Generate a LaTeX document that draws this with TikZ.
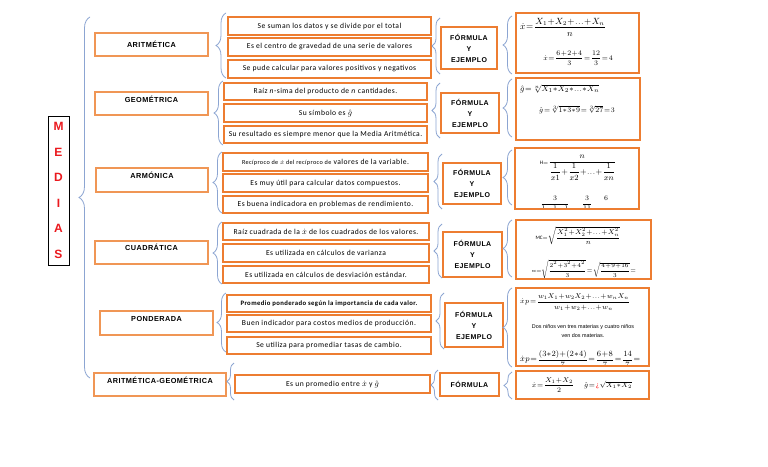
\documentclass[tikz,border=0pt]{standalone}
\usepackage{amsmath}
\usepackage{fontspec}
\setmainfont{Carlito}
\newfontfamily\descfont[LetterSpace=6]{Carlito}
\newfontfamily\headfont[LetterSpace=6]{Liberation Sans}
\newfontfamily\smallsans{Liberation Sans}
\usetikzlibrary{decorations.pathreplacing}
\definecolor{boxorange}{RGB}{237,125,49}
\definecolor{lightor}{RGB}{240,150,85}
\definecolor{bracecol}{RGB}{140,165,210}
\definecolor{medred}{RGB}{235,25,30}
\newcommand\up[2]{\raisebox{#1}[\height][\depth]{#2}}
\newcommand\BX[7]{\node[#1, minimum width={#5-#3}, minimum height={#6-#4}] (#2) at ({(#3+#5)/2},{(#4+#6)/2}) {#7};}
\newcommand\tightmath{\thickmuskip=1.5mu\medmuskip=0.8mu\thinmuskip=1mu}
\begin{document}
\begin{tikzpicture}[x=1pt,y=-1pt,
  medbox/.style={draw=black, line width=0.9pt, inner sep=0pt, align=center, text=medred,
    font=\headfont\bfseries\fontsize{12}{25.6}\selectfont},
  cat/.style={draw=lightor, line width=1.3pt, inner sep=0pt,
    font=\headfont\bfseries\fontsize{7.3}{9}\selectfont},
  desc/.style={draw=boxorange, line width=1.5pt, inner sep=0pt,
    font=\descfont\fontsize{7.6}{8}\selectfont},
  fy/.style={draw=boxorange, line width=1.6pt, inner sep=0pt, align=center,
    font=\headfont\bfseries\fontsize{7}{11}\selectfont},
  fbox/.style={draw=boxorange, line width=1.5pt, inner sep=0pt},
  fboxthick/.style={draw=boxorange, line width=2.3pt, inner sep=0pt},
  fm/.style={inner sep=0pt, font=\fontsize{7.3}{8}\selectfont\tightmath},
  fmb/.style={inner sep=0pt, font=\fontsize{9}{10}\selectfont\tightmath},
  fms/.style={inner sep=0pt, font=\fontsize{6.3}{7.5}\selectfont\tightmath},
  smalltxt/.style={inner sep=0pt, align=center, font=\smallsans\fontsize{5.4}{9}\selectfont},
  br/.style={decorate, decoration={brace, amplitude=#1}, draw=bracecol, line width=0.8pt}
]
\useasboundingbox (0,0) rectangle (768,466);
\fill[white] (0,0) rectangle (768,466);

% MEDIAS
\BX{medbox}{medias}{48}{116}{69}{265}{M\\E\\D\\I\\A\\S}
\draw[br=11pt] (90,378) -- (90,17);

% categories
\BX{cat}{c1}{95}{33}{208}{56}{ARITMÉTICA}
\BX{cat}{c2}{95}{92}{208}{115}{\up{4pt}{GEOMÉTRICA}}
\BX{cat}{c3}{96}{168}{208}{192}{\up{5pt}{ARMÓNICA}}
\BX{cat}{c4}{95}{241}{208}{264}{\up{5pt}{CUADRÁTICA}}
\BX{cat}{c5}{100}{311}{213}{335}{\up{4pt}{PONDERADA}}
\BX{cat}{c6}{94}{373}{226}{396}{\up{4pt}{ARITMÉTICA-GEOMÉTRICA}}

% descriptions
\BX{desc}{a1}{228}{17}{431}{35}{Se suman los datos y se divide por el total}
\BX{desc}{a2}{228}{38}{431}{56}{Es el centro de gravedad de una serie de valores}
\BX{desc}{a3}{228}{60}{431}{78}{Se pude calcular para valores positivos y negativos}
\BX{desc}{b1}{224}{83}{427}{100}{Raíz \textit{n}-sima del producto de \textit{n} cantidades.}
\BX{desc}{b2}{224}{104}{427}{122}{Su símbolo es $\hat{g}$}
\BX{desc}{b3}{224}{126}{427}{143}{Su resultado es siempre menor que la Media Aritmética.}
\BX{desc}{h1}{223}{153}{428}{171}{{\fontsize{6.2}{6}\selectfont Recíproco de $\dot{x}$ del recíproco de} valores de la variable.}
\BX{desc}{h2}{223}{174}{428}{192}{Es muy útil para calcular datos compuestos.}
\BX{desc}{h3}{223}{196}{428}{213}{Es buena indicadora en problemas de rendimiento.}
\BX{desc}{q1}{223}{223}{429}{240}{Raíz cuadrada de la $\dot{x}$ de los cuadrados de los valores.}
\BX{desc}{q2}{223}{244}{429}{262}{Es utilizada en cálculos de varianza}
\BX{desc}{q3}{223}{266}{429}{283}{Es utilizada en cálculos de desviación estándar.}
\BX{desc}{p1}{227}{295}{431}{312}{\bfseries\fontsize{6.7}{7}\selectfont Promedio ponderado según la importancia de cada valor.}
\BX{desc}{p2}{227}{315}{431}{332}{Buen indicador para costos medios de producción.}
\BX{desc}{p3}{227}{337}{431}{354}{Se utiliza para promediar tasas de cambio.}
\BX{desc}{g1}{235}{375}{430}{393}{Es un promedio entre $\dot{x}$ y $\hat{g}$}

% braces category -> descriptions
\draw[br=10pt] (226,78) -- (226,13);
\draw[br=9pt] (223,145) -- (223,81);
\draw[br=9pt] (222,213) -- (222,152);
\draw[br=9pt] (222,284) -- (222,222);
\draw[br=9pt] (226,352) -- (226,293);
\draw[br=7pt] (234,400) -- (234,363);

% FORMULA Y EJEMPLO boxes
\BX{fy}{fy1}{441}{27}{497}{69}{FÓRMULA\\Y\\EJEMPLO}
\BX{fy}{fy2}{441}{93}{499}{133}{FÓRMULA\\Y\\EJEMPLO}
\BX{fy}{fy3}{443}{163}{501}{204}{FÓRMULA\\Y\\EJEMPLO}
\BX{fy}{fy4}{443}{232}{502}{277}{FÓRMULA\\Y\\EJEMPLO}
\BX{fy}{fy5}{445}{303}{503}{347}{FÓRMULA\\Y\\EJEMPLO}
\BX{fy}{fy6}{440}{373}{499}{396}{FÓRMULA}

\draw[br=8pt] (440,74) -- (440,18);
\draw[br=8pt] (440,138) -- (440,83);
\draw[br=8pt] (442,209) -- (442,154);
\draw[br=8pt] (442,278) -- (442,224);
\draw[br=8pt] (444,349) -- (444,293);
\draw[br=7pt] (438,400) -- (438,370);

% formula boxes
\BX{fbox}{F1}{516}{13}{639}{73}{}
\BX{fboxthick}{F2}{516}{78}{640}{140}{}
\BX{fbox}{F3}{515}{148}{639}{209}{}
\BX{fboxthick}{F4}{516}{220}{651}{279}{}
\BX{fboxthick}{F5}{516}{288}{649}{366}{}
\BX{fboxthick}{F6}{516}{371}{649}{399}{}

\draw[br=9pt] (512,74) -- (512,16);
\draw[br=9pt] (512,137) -- (512,79);
\draw[br=9pt] (512,205) -- (512,150);
\draw[br=9pt] (512,277) -- (512,220);
\draw[br=9pt] (512,367) -- (512,288);
\draw[br=8pt] (512,399) -- (512,372);

% formula contents
\node[fmb, anchor=west] (f1a) at (520,27) {$\dot{x}=\dfrac{X_1+X_2+\ldots+X_n}{n}$};
\node[fm] (f1b) at (578,58) {$\dot{x}=\dfrac{6+2+4}{3}=\dfrac{12}{3}=4$};

\node[fm, font=\fontsize{8}{9}\selectfont\tightmath, anchor=west] (f2a) at (520,89) {$\hat{g}=\sqrt[n]{X_1*X_2*\ldots*X_n}$};
\node[fm] (f2b) at (577,110) {$\hat{g}=\sqrt[3]{1*3*9}=\sqrt[3]{27}=3$};

\node[fm, font=\fontsize{7.6}{9}\selectfont\tightmath] (f3a) at (578,168) {${\scriptstyle\mathrm{H}=}\dfrac{n}{\dfrac{1}{x1}+\dfrac{1}{x2}+\ldots+\dfrac{1}{xn}}$};
\begin{scope}
\clip (517,150) rectangle (637,207.5);
\node[fm] (f3b) at (555,203.5) {$\dfrac{3}{1\quad1\quad1}$};
\node[fm] (f3c) at (587,203.5) {$\dfrac{3}{11}$};
\node[fm] (f3d) at (606,198) {$6$};
\end{scope}

\node[fm] (f4a) at (578,236) {${\scriptstyle\mathrm{MC}=}\sqrt{\dfrac{X_1^2+X_2^2+\ldots+X_n^2}{n}}$};
\begin{scope}
\clip (518,222) rectangle (649,277.5);
\node[fms] (f4b) at (584,269) {${\scriptscriptstyle\mathrm{MC}=}\sqrt{\dfrac{2^2+3^2+4^2}{3}}=\sqrt{\dfrac{4+9+16}{3}}=$};
\end{scope}

\node[fm, anchor=west] (f5a) at (520,302) {$\dot{x}\,p=\dfrac{w_1X_1+w_2X_2+\ldots+w_nX_n}{w_1+w_2+\ldots+w_n}$};
\node[smalltxt] (f5b) at (583,331) {Dos niños ven tres materias y cuatro niños\\ven dos materias.};
\begin{scope}
\clip (518,290) rectangle (647,364.5);
\node[fm, font=\fontsize{7.8}{9}\selectfont\tightmath, anchor=west] (f5c) at (520,359) {$\dot{x}\,p=\dfrac{(3*2)+(2*4)}{7}=\dfrac{6+8}{7}=\dfrac{14}{7}=$};
\end{scope}

\node[fm] (f6a) at (553,385) {$\dot{x}=\dfrac{X_1+X_2}{2}$};
\node[fm] (f6b) at (608,385) {$\hat{g}=\text{\color{red}¿}\,\sqrt{X_1*X_2}$};
\end{tikzpicture}
\end{document}
